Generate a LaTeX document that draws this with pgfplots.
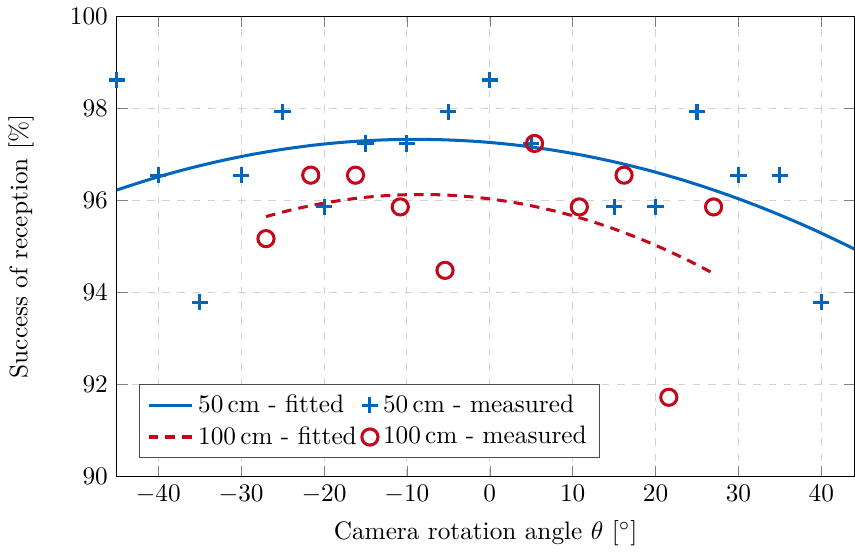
\documentclass[border=0pt]{standalone}
\usepackage{pgfplots}
\pgfplotsset{compat=1.18}
\definecolor{tumblue}{HTML}{0065BD}
\definecolor{tumred}{HTML}{C4071B}
\begin{document}
\begin{tikzpicture}
\begin{axis}[
  scale only axis,
  width=292pt, height=182pt,
  xmin=-45, xmax=44, ymin=90, ymax=100,
  xtick={-40,-30,...,40},
  ytick={90,92,...,100},
  grid=major,
  major grid style={dashed, gray!35, line width=0.4pt},
  xlabel={Camera rotation angle $\theta$ [$^\circ$]},
  ylabel={Success of reception [\%]},
  ylabel shift=7.5pt,
  legend columns=2,
  legend cell align=left,
  legend style={at={(0.03,0.039)}, anchor=south west, draw=black!70},
]
\addplot[tumblue, line width=1.2pt, smooth] coordinates {
(-45,96.228) (-41,96.460) (-37,96.664) (-33,96.840) (-29,96.990) (-25,97.112)
(-21,97.208) (-17,97.276) (-13,97.316) (-9,97.330) (-5,97.316) (-1,97.276)
(3,97.208) (7,97.112) (11,96.990) (15,96.840) (19,96.664) (23,96.460)
(27,96.228) (31,95.970) (35,95.684) (39,95.372) (43,95.032) (44,94.942)
};
\addlegendentry{50\,cm - fitted}
\addplot[tumblue, only marks, mark=+, mark size=3.2pt, line width=1.2pt] coordinates {
(-45,98.62) (-40,96.55) (-35,93.79) (-30,96.55) (-25,97.93) (-20,95.86)
(-15,97.24) (-10,97.24) (-5,97.93) (0,98.62) (5,97.24) (15,95.86)
(20,95.86) (25,97.93) (30,96.55) (35,96.55) (40,93.79)
};
\addlegendentry{50\,cm - measured}
\addplot[tumred, dash pattern=on 3.8pt off 2.8pt, line width=1.2pt, smooth] coordinates {
(-27,95.650) (-24,95.792) (-21,95.909) (-18,96.001) (-15,96.069) (-12,96.111)
(-9,96.129) (-6,96.123) (-3,96.091) (0,96.034) (3,95.953) (6,95.847)
(9,95.717) (12,95.561) (15,95.381) (18,95.175) (21,94.946) (24,94.691) (27,94.411)
};
\addlegendentry{100\,cm - fitted}
\addplot[tumred, only marks, mark=o, mark size=3.2pt, line width=1.2pt] coordinates {
(-27,95.17) (-21.6,96.55) (-16.2,96.55) (-10.8,95.86) (-5.4,94.48)
(5.4,97.24) (10.8,95.86) (16.2,96.55) (21.6,91.72) (27,95.86)
};
\addlegendentry{100\,cm - measured}
\end{axis}
\end{tikzpicture}
\end{document}
